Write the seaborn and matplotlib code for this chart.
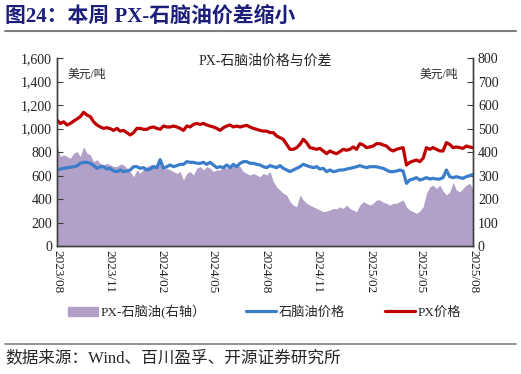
import pandas as pd
import seaborn as sns
import matplotlib.pyplot as plt
from matplotlib.lines import Line2D
from matplotlib.patches import Patch

# 价格（美元/吨，左轴）与价差（右轴），约每6天一个点
px_price = [1072, 1043, 1057, 1030, 1043, 1063, 1081, 1101, 1138, 1115, 1101, 1057, 1030, 1013, 1001, 1007, 999,
            984, 1001, 978, 984, 965, 945, 965, 1001, 1001, 993, 993, 1007, 1013, 1001, 993, 1021,
            1013, 1013, 1021, 1013, 1001, 984, 1021, 1013, 1035, 1043, 1035, 1043, 1030, 1021, 1013, 1001,
            984, 1007, 1021, 1030, 1013, 1021, 1013, 1021, 1027, 1013, 1001, 993, 984, 978, 978, 965,
            965, 936, 922, 908, 865, 823, 823, 837, 865, 908, 880, 837, 831, 823, 831, 809,
            786, 809, 795, 786, 803, 823, 815, 823, 843, 823, 871, 860, 837, 843, 851, 871,
            871, 860, 851, 823, 809, 823, 831, 837, 689, 712, 723, 732, 718, 746, 837, 823,
            837, 823, 809, 809, 880, 865, 837, 843, 837, 831, 851, 843, 837]
naphtha_price = [647, 655, 661, 667, 670, 675, 681, 704, 712, 712, 704, 684, 661, 675, 675, 655, 661,
                 638, 633, 647, 633, 638, 647, 675, 675, 661, 667, 647, 655, 675, 667, 735, 661,
                 675, 690, 675, 684, 695, 695, 718, 712, 712, 704, 704, 712, 695, 712, 690, 667,
                 675, 667, 690, 667, 695, 675, 704, 718, 718, 704, 704, 695, 690, 675, 667, 684,
                 675, 667, 684, 661, 647, 633, 647, 661, 675, 695, 684, 675, 667, 675, 655, 661,
                 633, 647, 633, 638, 647, 647, 655, 661, 667, 675, 684, 675, 667, 675, 675, 675,
                 667, 661, 647, 633, 633, 638, 647, 638, 533, 562, 570, 582, 562, 570, 582, 570,
                 576, 570, 570, 582, 647, 590, 582, 590, 582, 576, 590, 599, 610]
spread = [430, 381, 388, 381, 373, 395, 402, 381, 423, 395, 388, 359, 368, 352, 345, 352, 345,
          338, 338, 348, 345, 331, 317, 295, 324, 309, 328, 338, 345, 348, 338, 352, 324,
          331, 324, 317, 309, 317, 281, 309, 317, 302, 331, 338, 324, 338, 331, 317, 324,
          324, 338, 331, 338, 352, 345, 338, 317, 309, 302, 309, 302, 295, 309, 302, 317,
          274, 252, 238, 224, 217, 189, 174, 167, 217, 196, 182, 174, 167, 160, 153, 146,
          149, 153, 160, 158, 167, 160, 174, 160, 153, 146, 174, 189, 182, 174, 182, 196,
          196, 186, 182, 174, 182, 182, 189, 196, 167, 153, 146, 139, 149, 167, 224, 252,
          259, 245, 259, 234, 217, 229, 271, 238, 231, 245, 259, 267, 243]

dates = pd.date_range("2023-08-01", "2025-08-01", periods=len(px_price))
tick_dates = pd.date_range("2023-08-01", "2025-08-01", freq="3MS")

df = pd.DataFrame({"date": dates, "PX": px_price, "naphtha": naphtha_price, "spread": spread})

sns.set_style("white")
plt.rcParams['font.family'] = ['Liberation Serif', 'Noto Sans CJK SC']
plt.rcParams['axes.unicode_minus'] = False

c_area = '#B1A0C7'
c_blue = '#3A7DCB'
c_red = '#C00000'
c_axis = '#404040'

fig = plt.figure(figsize=(5.21, 3.74), dpi=100)
ax = fig.add_axes([0.1094, 0.3422, 0.7985, 0.5027])
ax2 = ax.twinx()

# 价差面积图（右轴）
ax2.fill_between(df["date"], 0, df["spread"], color=c_area, lw=0)
ax2.set_ylim(0, 800)

# 价格线（左轴）
sns.lineplot(data=df, x="date", y="naphtha", ax=ax, color=c_blue, lw=2.3)
sns.lineplot(data=df, x="date", y="PX", ax=ax, color=c_red, lw=2.3)
ax.set_zorder(ax2.get_zorder() + 1)
ax.patch.set_visible(False)

ax.set_ylim(0, 1600)
ax.set_yticks(range(0, 1601, 200))
ax.set_yticklabels([f"{v:,}" for v in range(0, 1601, 200)])
ax2.set_yticks(range(0, 801, 100))
ax.set_xlim(dates[0], dates[-1])
ax.set_xticks(tick_dates)
ax.set_xticklabels([d.strftime("%Y/%m") for d in tick_dates], rotation=-90, va='top', ha='center')
ax.set_xlabel("")
ax.set_ylabel("")

for a in (ax, ax2):
    a.spines['top'].set_visible(False)
    for s in ('left', 'right', 'bottom'):
        a.spines[s].set_color(c_axis)
        a.spines[s].set_linewidth(1.0)
    a.tick_params(direction='in', length=4, width=0.8, color=c_axis, labelsize=10, labelcolor='#222222')
ax.tick_params(axis='x', pad=3, labelsize=9.5)

ax.text(0.5, 0.985, "PX-石脑油价格与价差", transform=ax.transAxes, ha='center', va='center', fontsize=10)
ax.text(0.026, 0.91, "美元/吨", transform=ax.transAxes, ha='left', va='center', fontsize=8.5)
ax.text(0.964, 0.91, "美元/吨", transform=ax.transAxes, ha='right', va='center', fontsize=8.5)

handles = [Patch(color=c_area), Line2D([], [], color=c_blue, lw=2.3), Line2D([], [], color=c_red, lw=2.3)]
labels = ["PX-石脑油(右轴）", "石脑油价格", "PX价格"]
fig.legend(handles, labels, loc='center', bbox_to_anchor=(0.508, 0.166), ncol=3, frameon=False,
           fontsize=9.5, handlelength=2.3, handletextpad=0.2, columnspacing=3.0)

fig.text(0.01, 0.955, "图24：本周 PX-石脑油价差缩小", fontsize=15, fontweight='bold', color='#1B1F7A',
         ha='left', va='center')
fig.add_artist(Line2D([0.01, 0.99], [1 - 31 / 374] * 2, color='#7F7F7F', lw=1.5))
fig.add_artist(Line2D([0.01, 0.99], [1 - 344 / 374] * 2, color='#7F7F7F', lw=1.2))
fig.text(0.01, 1 - 358 / 374, "数据来源：Wind、百川盈孚、开源证券研究所", fontsize=12, ha='left', va='center')

fig.savefig("out.png", dpi=100)
